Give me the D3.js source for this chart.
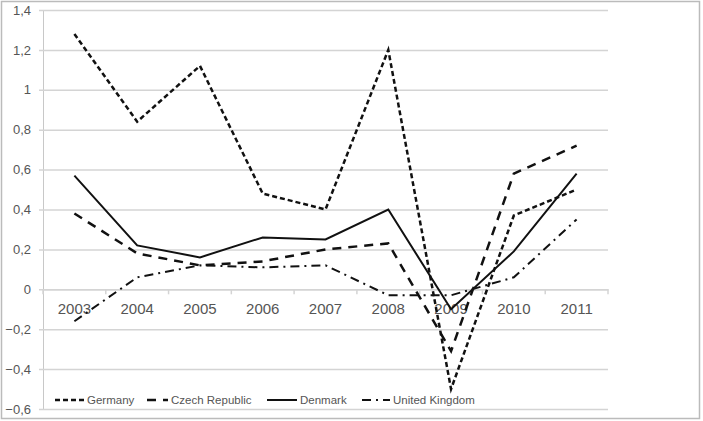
<!DOCTYPE html>
<html>
<head>
<meta charset="utf-8">
<script src="https://cdn.jsdelivr.net/npm/d3@7"></script>
<style>
  body { margin: 0; background: #fff; }
  text { font-family: "Liberation Sans", Arial, sans-serif; fill: #555; }
</style>
</head>
<body>
<script>
// data
const years = ['2003', '2004', '2005', '2006', '2007', '2008', '2009', '2010', '2011']
const germany = [1.28, 0.84, 1.12, 0.48, 0.40, 1.20, -0.50, 0.37, 0.50]
const czech = [0.38, 0.18, 0.12, 0.14, 0.20, 0.23, -0.31, 0.58, 0.72]
const denmark = [0.57, 0.22, 0.16, 0.26, 0.25, 0.40, -0.10, 0.19, 0.58]
const uk = [-0.16, 0.06, 0.12, 0.11, 0.12, -0.03, -0.03, 0.06, 0.35]
const yTicks = [-0.6, -0.4, -0.2, 0, 0.2, 0.4, 0.6, 0.8, 1, 1.2, 1.4]

const series = [
  { name: 'Germany', values: germany, dash: '5,3', width: 2.5, key: [55, 84] },
  { name: 'Czech Republic', values: czech, dash: '9,7', width: 2.5, key: [147, 168] },
  { name: 'Denmark', values: denmark, dash: null, width: 2, key: [267, 297] },
  { name: 'United Kingdom', values: uk, dash: '9,5,2,5', width: 2, key: [362, 390] }
]

const svg = d3
  .select('body')
  .append('svg')
  .attr('width', 703)
  .attr('height', 421)

// outer frame
svg.append('rect')
  .attr('x', 1.5).attr('y', 1.5)
  .attr('width', 698).attr('height', 417)
  .attr('fill', 'none')
  .attr('stroke', '#bbb')
  .attr('stroke-width', 1.5)

const left = 43, right = 608
const y = d3.scaleLinear().domain([-0.6, 1.4]).range([409, 10])
const xBand = d3.scaleBand().domain(years).range([left, right])
const x = d => xBand(d) + xBand.bandwidth() / 2

// gridlines + y labels
const yAxis = d3.axisLeft(y)
  .tickValues(yTicks)
  .tickSize(-(right - left))
  .tickFormat(d => d3.format('.1f')(d).replace('.0', '').replace('.', ','))

const gy = svg.append('g')
  .attr('transform', `translate(${left},0)`)
  .call(yAxis)
gy.select('.domain').attr('stroke', '#c8c8c8')
gy.selectAll('.tick line').attr('stroke', '#d4d4d4').attr('stroke-width', 1.5)
  .attr('x1', -4)
gy.selectAll('.tick text').attr('x', -12).attr('font-size', 13).attr('fill', '#555')
  .attr('font-family', '"Liberation Sans", Arial, sans-serif')

// x axis on zero line
const xAxis = d3.axisBottom(xBand).tickSize(0).tickPadding(14)
const gx = svg.append('g')
  .attr('transform', `translate(0,${y(0)})`)
  .call(xAxis)
gx.select('.domain').attr('stroke', '#d4d4d4').attr('stroke-width', 1.5)
gx.selectAll('.tick text').attr('font-size', 15).attr('fill', '#555')
  .attr('font-family', '"Liberation Sans", Arial, sans-serif')
gx.selectAll('.bound')
  .data(d3.range(years.length + 1))
  .join('line')
  .attr('x1', i => left + i * xBand.step())
  .attr('x2', i => left + i * xBand.step())
  .attr('y1', 0).attr('y2', 5)
  .attr('stroke', '#d4d4d4').attr('stroke-width', 1.5)

// lines
const line = d3.line()
  .x((d, i) => x(years[i]))
  .y(d => y(d))

svg.selectAll('.series')
  .data(series)
  .join('path')
  .attr('d', s => line(s.values))
  .attr('fill', 'none')
  .attr('stroke', '#111')
  .attr('stroke-width', s => s.width)
  .attr('stroke-dasharray', s => s.dash)

// legend
const legY = 400
const leg = svg.selectAll('.leg')
  .data(series)
  .join('g')
leg.append('line')
  .attr('x1', s => s.key[0]).attr('x2', s => s.key[1])
  .attr('y1', legY).attr('y2', legY)
  .attr('stroke', '#111')
  .attr('stroke-width', s => s.width)
  .attr('stroke-dasharray', s => s.dash)
leg.append('text')
  .attr('x', s => s.key[1] + 3)
  .attr('y', legY + 4)
  .attr('font-size', 11.5)
  .text(s => s.name)
</script>
</body>
</html>
